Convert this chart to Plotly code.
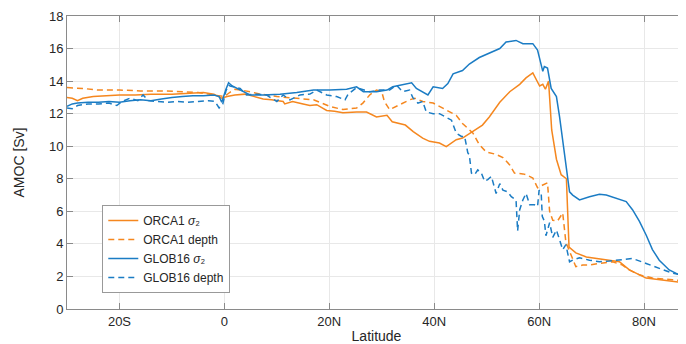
import plotly.graph_objects as go

# ---------------- data ----------------
orca_sig_lat = [-30, -29, -28, -27, -25, -22, -20, -17, -14, -10, -7, -4, -2, -0.5, 0.5, 2, 4, 6, 7.4, 9,
                11.2, 11.5, 13, 15, 16.3, 17.6, 19.5, 21, 22.6, 25.2, 27.1, 29, 31, 32, 33.5, 34.5, 36, 37.8,
                39.1, 41, 42.3, 44.2, 45.4, 47.4, 49.2, 50.5, 52.5, 54.4, 56.3, 57.5, 58.8, 60.1, 60.7, 61.2,
                61.8, 62.4, 63.3, 64.2, 64.8, 65.2, 65.7, 67, 69, 72.8, 75.3, 77.2, 80.4, 84.2, 88]
orca_sig_val = [13.0, 12.95, 12.8, 12.95, 13.05, 13.1, 13.15, 13.15, 13.2, 13.2, 13.25, 13.3, 13.2, 12.95,
                13.05, 13.15, 13.2, 13.05, 12.9, 12.85, 12.75, 12.6, 12.75, 12.6, 12.5, 12.55, 12.2, 12.15,
                12.05, 12.1, 12.1, 11.8, 11.9, 11.5, 11.4, 11.3, 10.9, 10.5, 10.3, 10.2, 9.98, 10.4, 10.5,
                10.9, 11.3, 11.8, 12.7, 13.35, 13.8, 14.2, 14.5, 13.7, 13.8, 13.5, 14.0, 11.0, 9.2, 8.25,
                8.1, 8.0, 3.8, 3.45, 3.2, 3.0, 2.9, 2.4, 1.9, 1.75, 1.6]

orca_dep_lat = [-30, -27, -24, -20, -16, -12, -8, -5, -2, 0, 1, 2, 4, 7, 10, 13, 17, 20.1, 22.6, 25.2,
                26.4, 27.7, 29, 30, 30.5, 31.5, 33.4, 35.3, 36.3, 37.8, 39.8, 42.3, 44.2, 45.4, 47.4, 48.6,
                49.9, 51.8, 53.1, 54.4, 55.3, 56.9, 57.5, 58.8, 59.7, 60.6, 61.6, 62, 62.6, 63.5, 64.2,
                64.5, 65.1, 66.1, 67, 68.3, 69.6, 71.5, 74, 75.9, 77.2, 79.1, 81.6, 85.4, 88]
orca_dep_val = [13.6, 13.55, 13.45, 13.45, 13.4, 13.4, 13.35, 13.3, 13.15, 13.05, 13.3, 13.5, 13.4, 13.2,
                13.05, 12.95, 12.85, 12.45, 12.25, 12.35, 12.65, 13.15, 13.45, 13.35, 12.75, 12.25, 12.55,
                12.85, 12.95, 12.75, 12.65, 12.2, 11.9, 11.4, 10.8, 10.1, 9.65, 9.5, 9.3, 8.85, 8.35, 8.3,
                8.25, 8.05, 7.45, 7.6, 7.75, 6.0, 5.45, 5.4, 5.8, 5.9, 4.1, 3.25, 2.6, 2.7, 2.7, 2.8, 2.9,
                2.7, 2.4, 2.1, 1.9, 1.8, 1.7]

glob_sig_lat = [-30, -29, -28, -26, -24, -22, -20, -18, -16, -14, -12, -10, -8, -6, -4, -2, -1, -0.5, 0.3,
                0.8, 1.5, 3, 4.9, 7.4, 10.6, 13.8, 17, 20.1, 23.3, 25.2, 26.5, 29, 31, 32.1, 33.4, 35.7,
                36.6, 37.2, 38.8, 39.8, 41.6, 42.6, 43.6, 45.4, 46.7, 48.6, 50.5, 52.5, 53.7, 55.6, 56.9,
                58.8, 59.7, 60.4, 60.7, 61, 61.6, 62.3, 63.3, 63.9, 64.8, 65.8, 66.4, 67.7, 69.6, 71.5,
                72.8, 74.7, 76.6, 77.8, 79.1, 80.4, 81.6, 82.9, 84.8, 86.7, 88]
glob_sig_val = [12.45, 12.6, 12.65, 12.7, 12.7, 12.75, 12.7, 12.8, 12.85, 12.8, 12.9, 13.0, 13.05, 13.1,
                13.1, 13.15, 13.05, 12.7, 13.5, 13.9, 13.7, 13.45, 13.15, 13.15, 13.2, 13.3, 13.45, 13.45,
                13.5, 13.65, 13.35, 13.35, 13.45, 13.65, 13.75, 13.9, 13.55, 13.45, 13.15, 13.65, 13.55,
                13.85, 14.45, 14.65, 15.05, 15.45, 15.7, 16.0, 16.4, 16.5, 16.3, 16.3, 15.9, 15.1, 14.6,
                14.9, 14.8, 13.55, 13.05, 11.8, 9.75, 7.2, 7.0, 6.7, 6.9, 7.05, 7.0, 6.8, 6.6, 6.1, 5.4,
                4.55, 3.65, 3.0, 2.4, 2.1, 1.9]

glob_dep_lat = [-30, -29, -28, -26, -24, -22, -20.5, -19.5, -18, -16.5, -15.5, -14.5, -13, -11, -9, -7,
                -5, -3, -1.8, -1, -0.3, 0.3, 0.8, 1.1, 3, 4.2, 6.2, 8, 10, 11.2, 12.5, 14.4, 16.3, 17.6,
                19.5, 21.4, 23, 23.6, 25.2, 27.7, 29.6, 31.5, 32.8, 34, 35.3, 35.9, 36.9, 37.8, 38.5,
                39.8, 41, 42.3, 43.3, 44.2, 45.2, 45.8, 46.4, 46.7, 47.1, 47.7, 48.3, 49, 49.6, 50.2,
                50.9, 51.8, 52.5, 53.1, 54, 54.7, 55.6, 55.9, 56.3, 56.9, 57.5, 58.2, 59.1, 59.7, 60.0,
                60.4, 60.6, 61, 61.3, 62, 62.6, 63.3, 63.9, 64.5, 65.1, 65.8, 66.4, 67.7, 69.6, 71.5,
                73.4, 75.3, 77.8, 80.4, 82.9, 85.4, 88]
glob_dep_val = [12.35, 12.3, 12.5, 12.6, 12.6, 12.65, 12.5, 12.75, 12.95, 12.8, 13.15, 12.8, 12.75, 12.7,
                12.75, 12.7, 12.75, 12.8, 12.75, 12.35, 12.6, 13.4, 13.75, 13.7, 13.55, 13.15, 13.2, 13.15,
                12.75, 13.15, 12.85, 13.15, 13.2, 13.45, 13.15, 13.05, 12.85, 13.2, 13.6, 13.35, 13.45,
                13.45, 13.75, 13.35, 13.45, 13.0, 12.65, 12.75, 12.1, 12.0, 12.0, 11.8, 11.6, 10.8, 10.6,
                10.6, 9.6, 9.45, 8.35, 8.25, 8.55, 8.35, 7.85, 7.95, 8.15, 7.1, 7.7, 7.3, 7.2, 6.9, 6.7,
                4.8, 6.1, 6.7, 7.1, 6.4, 6.4, 6.3, 7.3, 7.1, 5.7, 5.4, 4.5, 5.3, 4.4, 4.85, 4.25, 3.65,
                3.95, 2.9, 3.0, 3.15, 3.0, 2.9, 2.95, 3.0, 3.1, 2.8, 2.5, 2.2, 2.05]

series_names = ["ORCA1 <i>σ</i>₂", "ORCA1 depth", "GLOB16 <i>σ</i>₂", "GLOB16 depth"]
x_tickvals = [-20, 0, 20, 40, 60, 80]
x_ticktext = ["20S", "0", "20N", "40N", "60N", "80N"]
y_tickvals = [0, 2, 4, 6, 8, 10, 12, 14, 16, 18]

# ---------------- styling ----------------
ORANGE = "#F5871F"
BLUE = "#1B7CC4"
DASH = "6px,4px"
FONT = "Liberation Sans, Arial, Helvetica, sans-serif"
TXT = "#262626"
AX = "#8a8a8a"
GRID = "#e8e8e8"

fig = go.Figure()
series = [
    (orca_sig_lat, orca_sig_val, series_names[0], ORANGE, "solid"),
    (orca_dep_lat, orca_dep_val, series_names[1], ORANGE, DASH),
    (glob_sig_lat, glob_sig_val, series_names[2], BLUE, "solid"),
    (glob_dep_lat, glob_dep_val, series_names[3], BLUE, DASH),
]
for lat, val, name, col, dash in series:
    fig.add_trace(go.Scatter(x=lat, y=val, mode="lines", name=name,
                             line=dict(color=col, width=1.5, dash=dash)))

# the page body has an 8px default margin, so the figure is drawn 8px smaller
fig.update_layout(
    width=678, height=336,
    margin=dict(l=59, r=0, t=8, b=35),
    paper_bgcolor="white", plot_bgcolor="white",
    font=dict(family=FONT, size=13, color=TXT),
    showlegend=True,
    legend=dict(x=0.057, y=0.355, xanchor="left", yanchor="top",
                bgcolor="white", bordercolor="#999999", borderwidth=1,
                font=dict(family=FONT, size=12, color=TXT),
                tracegroupgap=0, itemwidth=30),
)
fig.update_xaxes(
    range=[-30, 88], tickvals=x_tickvals, ticktext=x_ticktext, automargin=False,
    showgrid=True, gridcolor=GRID, gridwidth=1, zeroline=False,
    showline=True, linecolor=AX, linewidth=1, mirror="ticks",
    ticks="inside", ticklen=6, tickcolor=AX,
    tickfont=dict(family=FONT, size=13, color=TXT),
    title=dict(text="Latitude", font=dict(family=FONT, size=14, color=TXT), standoff=8),
)
fig.update_yaxes(
    range=[0, 18], tickvals=y_tickvals, automargin=False,
    showgrid=True, gridcolor=GRID, gridwidth=1, zeroline=False,
    showline=True, linecolor=AX, linewidth=1,
    ticks="inside", ticklen=6, tickcolor=AX,
    tickfont=dict(family=FONT, size=13, color=TXT),
    title=dict(text="AMOC [Sv]", font=dict(family=FONT, size=14, color=TXT), standoff=21),
)

fig.write_html("out.html")
